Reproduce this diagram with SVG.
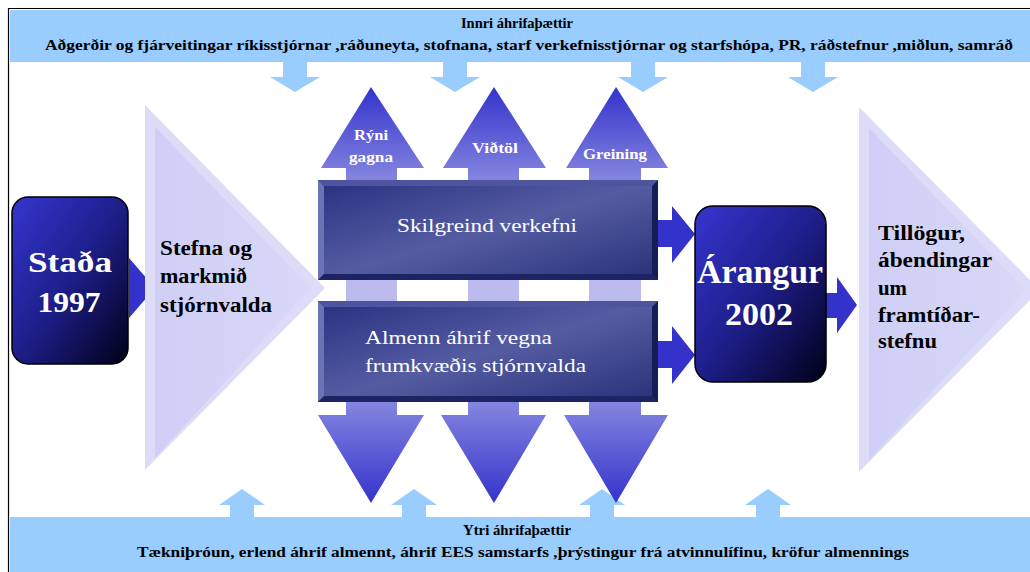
<svg xmlns="http://www.w3.org/2000/svg" width="1030" height="572" viewBox="0 0 1030 572">
<defs>
<linearGradient id="gUp" x1="0" y1="0" x2="0" y2="1">
<stop offset="0" stop-color="#3333CC"/><stop offset="1" stop-color="#8686E0"/>
</linearGradient>
<linearGradient id="gDown" x1="0" y1="0" x2="0" y2="1">
<stop offset="0" stop-color="#8686E0"/><stop offset="1" stop-color="#3333CC"/>
</linearGradient>
<linearGradient id="gRound" x1="0" y1="0" x2="1" y2="1">
<stop offset="0" stop-color="#3535D0"/><stop offset="0.5" stop-color="#1E1E8A"/><stop offset="1" stop-color="#000018"/>
</linearGradient>
<linearGradient id="gBox" x1="0" y1="0" x2="1" y2="1">
<stop offset="0" stop-color="#283080"/><stop offset="0.5" stop-color="#555CA2"/><stop offset="1" stop-color="#283078"/>
</linearGradient>
<linearGradient id="gTri" x1="0" y1="0" x2="1" y2="0">
<stop offset="0" stop-color="#CFCFF6"/><stop offset="1" stop-color="#D8D8F8"/>
</linearGradient>
</defs>
<style>
.band{fill:#99CCFF}
.lb{fill:#99CCFF}
.hdr{font-family:"Liberation Serif","Times New Roman",serif;font-weight:bold;font-size:14px;fill:#000}
.blk{font-family:"Liberation Serif","Times New Roman",serif;font-weight:bold;font-size:20px;fill:#000}
.wb{font-family:"Liberation Serif","Times New Roman",serif;font-weight:bold;fill:#fff}
.wn{font-family:"Liberation Serif","Times New Roman",serif;font-size:19px;fill:#fff}
.arr{fill:#3333CC}
.rb{fill:url(#gRound);stroke:#000;stroke-width:1.5}
.conn{fill:#BBBBEE}
</style>
<rect x="0" y="0" width="1030" height="572" fill="#fff"/>
<path d="M8.5,572 V8.5 H1030" fill="none" stroke="#000" stroke-width="1.2"/>

<g id="top-band">
<rect class="band" x="10" y="10" width="1020" height="52"/>
<text class="hdr" x="517" y="28" text-anchor="middle" textLength="112" lengthAdjust="spacingAndGlyphs">Innri áhrifaþættir</text>
<text class="hdr" x="45" y="50" textLength="968" lengthAdjust="spacingAndGlyphs">Aðgerðir og fjárveitingar ríkisstjórnar ,ráðuneyta, stofnana, starf verkefnisstjórnar og starfshópa, PR, ráðstefnur ,miðlun, samráð</text>
</g>
<g id="bottom-band">
<rect class="band" x="10" y="517" width="1020" height="55"/>
<text class="hdr" x="517" y="535" text-anchor="middle" textLength="108" lengthAdjust="spacingAndGlyphs">Ytri áhrifaþættir</text>
<text class="hdr" x="137" y="557" textLength="772" lengthAdjust="spacingAndGlyphs">Tækniþróun, erlend áhrif almennt, áhrif EES samstarfs ,þrýstingur frá atvinnulífinu, kröfur almennings</text>
</g>

<g id="connectors">
<!-- top band down arrows -->
<polygon class="lb" points="283,62 307,62 307,77 320,77 295,92 270,77 283,77"/>
<polygon class="lb" points="443,62 467,62 467,77 480,77 455,92 430,77 443,77"/>
<polygon class="lb" points="631,62 655,62 655,77 668,77 643,92 618,77 631,77"/>
<polygon class="lb" points="801,62 825,62 825,77 838,77 813,92 788,77 801,77"/>
<!-- bottom band up arrows -->
<polygon class="lb" points="230,517 254,517 254,505 265,505 242,489 219,505 230,505"/>
<polygon class="lb" points="402,517 426,517 426,505 437,505 414,489 391,505 402,505"/>
<polygon class="lb" points="590,517 614,517 614,505 625,505 602,489 579,505 590,505"/>
<polygon class="lb" points="756,517 780,517 780,505 791,505 768,489 745,505 756,505"/>
<!-- connecting shafts between boxes -->
<rect class="conn" x="346" y="279" width="51" height="23"/>
<rect class="conn" x="468" y="279" width="51" height="23"/>
<rect class="conn" x="589" y="279" width="52" height="23"/>
<!-- small arrows -->
<polygon class="arr" points="129,258 155,288 129,318"/>
<polygon class="arr" points="658,220 672,220 672,206 695,234 672,263 672,247 658,247"/>
<polygon class="arr" points="658,341 672,341 672,326 695,355 672,384 672,368 658,368"/>
<polygon class="arr" points="826,293 837,293 837,277 857,305 837,333 837,318 826,318"/>
</g>

<g id="up-arrows">
<polygon fill="url(#gUp)" points="371,87 424,168 397,168 397,181 346,181 346,168 321,168"/>
<polygon fill="url(#gUp)" points="494,87 546,168 519,168 519,181 468,181 468,168 443,168"/>
<polygon fill="url(#gUp)" points="616,87 668,168 641,168 641,181 589,181 589,168 566,168"/>
<text class="wb" font-size="14" x="371" y="140" text-anchor="middle" textLength="34" lengthAdjust="spacingAndGlyphs">Rýni</text>
<text class="wb" font-size="14" x="371" y="162" text-anchor="middle" textLength="44" lengthAdjust="spacingAndGlyphs">gagna</text>
<text class="wb" font-size="14" x="495" y="153" text-anchor="middle" textLength="46" lengthAdjust="spacingAndGlyphs">Viðtöl</text>
<text class="wb" font-size="14" x="615" y="159" text-anchor="middle" textLength="64" lengthAdjust="spacingAndGlyphs">Greining</text>
</g>

<g id="down-arrows">
<polygon fill="url(#gDown)" points="346,401 397,401 397,415 424,415 371,503 318,415 346,415"/>
<polygon fill="url(#gDown)" points="468,401 519,401 519,415 546,415 494,503 441,415 468,415"/>
<polygon fill="url(#gDown)" points="589,401 641,401 641,415 668,415 616,503 564,415 589,415"/>
</g>

<g id="stefna">
<polygon fill="#DCDCF9" points="145,105 325,288 145,470"/>
<polygon fill="url(#gTri)" points="155,127 311,288 155,458"/>
<text class="blk" x="160" y="255" textLength="92" lengthAdjust="spacingAndGlyphs">Stefna og</text>
<text class="blk" x="160" y="283" textLength="87" lengthAdjust="spacingAndGlyphs">markmið</text>
<text class="blk" x="160" y="312" textLength="112" lengthAdjust="spacingAndGlyphs">stjórnvalda</text>
</g>

<g id="tillogur">
<polygon fill="#DCDCF9" points="859,107 1040,290 859,472"/>
<polygon fill="url(#gTri)" points="869,128 1026,290 869,460"/>
<text class="blk" x="878" y="240" textLength="87" lengthAdjust="spacingAndGlyphs">Tillögur,</text>
<text class="blk" x="878" y="267" textLength="114" lengthAdjust="spacingAndGlyphs">ábendingar</text>
<text class="blk" x="878" y="295" textLength="29" lengthAdjust="spacingAndGlyphs">um</text>
<text class="blk" x="878" y="322" textLength="102" lengthAdjust="spacingAndGlyphs">framtíðar-</text>
<text class="blk" x="878" y="348" textLength="59" lengthAdjust="spacingAndGlyphs">stefnu</text>
</g>

<g id="stada">
<rect class="rb" x="12" y="197" width="116" height="167" rx="16"/>
<text class="wb" font-size="30" x="70" y="272" text-anchor="middle" textLength="84" lengthAdjust="spacingAndGlyphs">Staða</text>
<text class="wb" font-size="30" x="69" y="312" text-anchor="middle" textLength="63" lengthAdjust="spacingAndGlyphs">1997</text>
</g>

<g id="arangur">
<rect class="rb" x="695" y="206" width="131" height="176" rx="18"/>
<text class="wb" font-size="34" x="760" y="283" text-anchor="middle" textLength="126" lengthAdjust="spacingAndGlyphs">Árangur</text>
<text class="wb" font-size="32" x="759" y="325" text-anchor="middle" textLength="68" lengthAdjust="spacingAndGlyphs">2002</text>
</g>

<g id="skilgreind">
<rect x="318" y="180" width="340" height="100" fill="url(#gBox)"/>
<polygon fill="#6C72B6" points="318,180 324,186 324,274 318,280"/>
<polygon fill="#4E559E" points="318,180 658,180 652,186 324,186"/>
<polygon fill="#161C58" points="658,180 658,280 652,274 652,186"/>
<polygon fill="#1D2464" points="318,280 658,280 652,274 324,274"/>
<text class="wn" x="487" y="232" text-anchor="middle" textLength="180" lengthAdjust="spacingAndGlyphs">Skilgreind verkefni</text>
</g>

<g id="almenn">
<rect x="318" y="301" width="340" height="101" fill="url(#gBox)"/>
<polygon fill="#6C72B6" points="318,301 324,307 324,396 318,402"/>
<polygon fill="#4E559E" points="318,301 658,301 652,307 324,307"/>
<polygon fill="#161C58" points="658,301 658,402 652,396 652,307"/>
<polygon fill="#1D2464" points="318,402 658,402 652,396 324,396"/>
<text class="wn" x="365" y="344" textLength="187" lengthAdjust="spacingAndGlyphs">Almenn áhrif vegna</text>
<text class="wn" x="365" y="372" textLength="221" lengthAdjust="spacingAndGlyphs">frumkvæðis stjórnvalda</text>
</g>
</svg>
